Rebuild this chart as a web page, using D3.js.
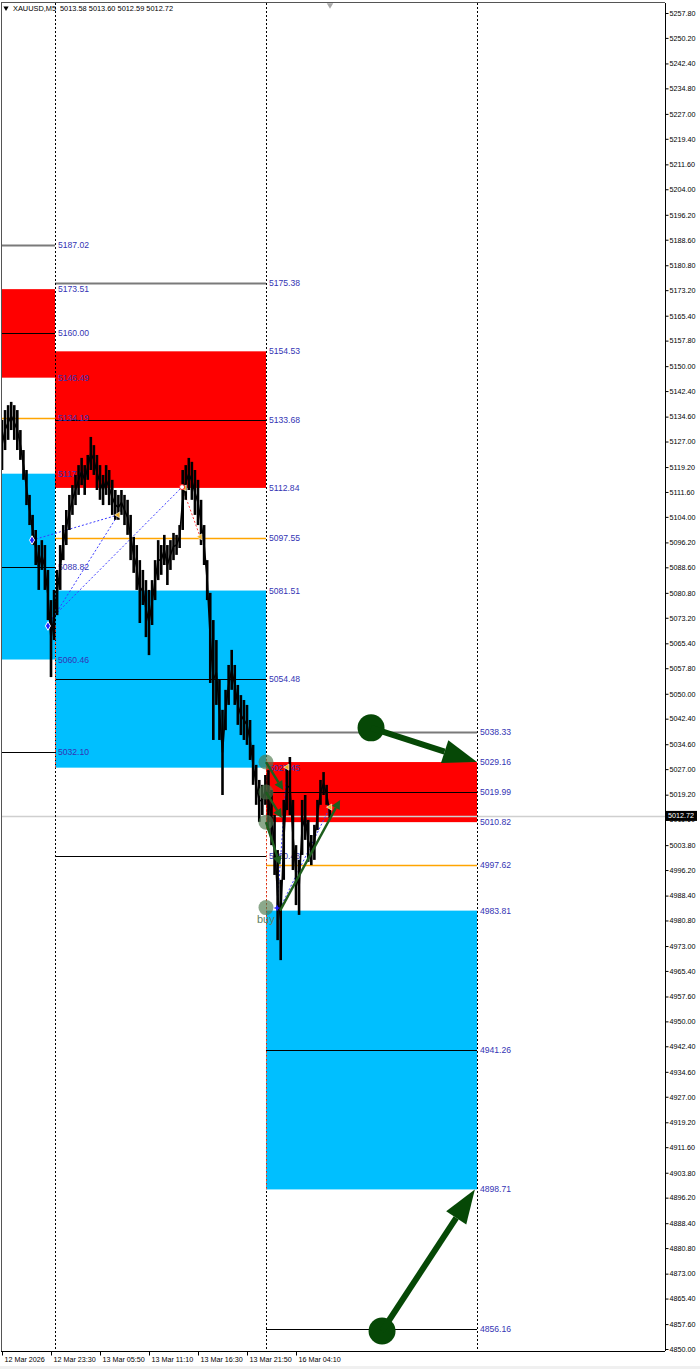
<!DOCTYPE html>
<html>
<head>
<meta charset="utf-8">
<script src="https://cdn.jsdelivr.net/npm/d3@7"></script>
<style>
  body { margin: 0; background: #fff; }
  text { font-family: "Liberation Sans", Arial, sans-serif; }
</style>
</head>
<body>
<svg id="chart"></svg>
<script>
// ---- data ----
var symbolTitle = "XAUUSD,M5";
var quoteValues = ["5013.58", "5013.60", "5012.59", "5012.72"];
var lastPrice = 5012.72;

var priceTicks = [5257.80, 5250.20, 5242.40, 5234.80, 5227.00, 5219.40, 5211.60, 5204.00, 5196.20, 5188.60,
    5180.80, 5173.20, 5165.40, 5157.80, 5150.00, 5142.40, 5134.60, 5127.00, 5119.20, 5111.60,
    5104.00, 5096.20, 5088.60, 5080.80, 5073.20, 5065.40, 5057.80, 5050.00, 5042.40, 5034.60,
    5027.00, 5019.20, 5011.60, 5003.80, 4996.20, 4988.40, 4980.80, 4973.00, 4965.40, 4957.60,
    4950.00, 4942.40, 4934.60, 4927.00, 4919.20, 4911.60, 4903.80, 4896.20, 4888.40, 4880.80,
    4873.00, 4865.40, 4857.60, 4850.00];

var timeLabels = ["12 Mar 2026", "12 Mar 23:30", "13 Mar 05:50", "13 Mar 11:10", "13 Mar 16:30", "13 Mar 21:50", "16 Mar 04:10"];
var timeLabelBars = [0, 16, 32, 48, 64, 80, 96];

// vertical session separators (bar positions)
var sessionBars = [17.3, 86.2, 155.1];

var barHigh = [5133.6, 5136.6, 5138.1, 5139.1, 5138.1, 5136.6, 5130.5, 5124.4, 5118.3, 5110.7,
    5104.6, 5100.0, 5095.4, 5096.9, 5095.4, 5087.8, 5078.6, 5081.7, 5087.8, 5095.4,
    5101.5, 5106.1, 5110.7, 5113.7, 5116.8, 5119.8, 5122.0, 5119.8, 5122.9, 5128.4,
    5125.9, 5122.9, 5119.8, 5116.8, 5119.8, 5118.3, 5115.3, 5112.2, 5110.7, 5112.2,
    5110.7, 5109.2, 5104.6, 5097.9, 5095.4, 5090.8, 5087.8, 5084.7, 5081.7, 5084.7,
    5090.8, 5096.9, 5095.4, 5098.5, 5095.4, 5096.9, 5099.1, 5098.5, 5101.5, 5118.3,
    5119.8, 5122.0, 5120.8, 5118.3, 5115.3, 5109.2, 5101.5, 5090.8, 5080.8, 5072.5,
    5066.4, 5054.2, 5045.1, 5051.2, 5058.8, 5063.4, 5058.8, 5052.7, 5049.6, 5048.1,
    5046.6, 5042.0, 5034.4, 5028.3, 5023.7, 5022.2, 5025.2, 5026.7, 5020.6, 5013.0,
    5002.3, 4993.2, 5017.6, 5028.3, 5030.7, 5017.6, 5003.8, 4999.3, 5017.6, 5019.1,
    5011.5, 5006.9, 5010.0, 5017.6, 5023.7, 5026.1, 5022.2, 5016.1];

var barLow = [5118.3, 5124.4, 5127.5, 5130.5, 5127.5, 5124.4, 5121.4, 5115.3, 5107.6, 5101.5,
    5095.4, 5089.3, 5081.7, 5087.8, 5081.7, 5072.5, 5055.1, 5066.4, 5074.0, 5081.7,
    5090.8, 5095.4, 5100.0, 5104.6, 5107.6, 5110.7, 5113.7, 5110.7, 5115.3, 5118.3,
    5116.8, 5112.2, 5109.2, 5107.6, 5110.7, 5107.6, 5104.6, 5103.1, 5103.1, 5104.6,
    5101.5, 5098.5, 5090.8, 5086.9, 5081.7, 5071.6, 5077.1, 5067.3, 5061.8, 5071.0,
    5078.6, 5084.7, 5086.3, 5089.3, 5083.2, 5087.8, 5090.8, 5092.4, 5094.5, 5100.0,
    5109.2, 5112.2, 5109.2, 5104.6, 5101.5, 5095.4, 5089.3, 5078.6, 5053.3, 5035.9,
    5046.6, 5035.9, 5019.1, 5038.9, 5046.6, 5051.2, 5046.6, 5040.5, 5037.4, 5035.9,
    5034.4, 5029.8, 5022.2, 5016.1, 5010.9, 5013.0, 5016.1, 5008.4, 5003.8, 4994.7,
    4974.8, 4968.7, 4993.2, 5014.5, 5013.0, 4996.2, 4985.5, 4982.5, 5000.8, 5005.4,
    4998.7, 4997.7, 4999.3, 5008.4, 5016.1, 5019.1, 5016.1, 5012.1];

// supply / demand zones
var zoneFrom = [-1, -1, 17.3, 17.3, 86.2, 86.2];
var zoneTo = [17.3, 17.3, 86.2, 86.2, 155.1, 155.1];
var zoneTop = [5173.51, 5117.18, 5154.53, 5081.51, 5029.16, 4983.81];
var zoneBottom = [5146.49, 5060.46, 5112.84, 5027.45, 5010.82, 4898.71];
var zoneKind = ["sell", "buy", "sell", "buy", "sell", "buy"];

// horizontal levels
var levelFrom = [-1, -1, -1, -1, -1, 17.3, 17.3, 17.3, 17.3, 17.3, 86.2, 86.2, 86.2, 86.2, 86.2];
var levelTo = [17.3, 17.3, 17.3, 17.3, 17.3, 86.2, 86.2, 86.2, 86.2, 86.2, 155.1, 155.1, 155.1, 155.1, 155.1];
var levelPrice = [5187.02, 5160.00, 5134.19, 5088.82, 5032.10, 5175.38, 5133.68, 5097.55, 5054.48, 5000.43,
    5038.33, 5019.99, 4997.62, 4941.26, 4856.16];
var levelKind = ["outer", "mid", "open", "mid", "mid", "outer", "mid", "open", "mid", "mid",
    "outer", "mid", "open", "mid", "mid"];

// price labels at the end of each session
var labelSession = [0, 0, 0, 0, 0, 0, 0, 0, 0, 1, 1, 1, 1, 1, 1, 1, 1, 1, 2, 2, 2, 2, 2, 2, 2, 2, 2];
var labelPrice = [5187.02, 5173.51, 5160.00, 5146.49, 5134.19, 5117.18, 5088.82, 5060.46, 5032.10,
    5175.38, 5154.53, 5133.68, 5112.84, 5097.55, 5081.51, 5054.48, 5027.45, 5000.43,
    5038.33, 5029.16, 5019.99, 5010.82, 4997.62, 4983.81, 4941.26, 4898.71, 4856.16];

// zigzag legs
var zigFromBar = [9.8, 15.0, 16.3, 58.8, 89.8, 90.8];
var zigFromPrice = [5096.9, 5070.7, 5073.1, 5113.1, 4984.6, 4984.6];
var zigToBar = [37.9, 37.9, 58.8, 64.7, 93.1, 107.1];
var zigToPrice = [5104.6, 5104.6, 5113.1, 5097.9, 5027.6, 5015.4];
var zigKind = ["up", "up", "up", "down", "up", "up"];

var pivotBar = [9.8, 15.0];
var pivotPrice = [5096.9, 5070.7];
var flagBar = [37.9, 59.6, 64.7, 93.1, 107.1];
var flagPrice = [5104.6, 5112.8, 5097.9, 5027.6, 5015.4];

// red dotted verticals
var dropBar = [17.3, 86.2];
var dropTop = [5070.7, 5030.0];
var dropBottom = [5027.45, 4898.71];

// signals
var signalBar = [86.2, 86.2, 86.2, 86.2];
var signalPrice = [5029.16, 5019.99, 5010.82, 4983.81];
var smallArrowFromBar = [86.2, 86.2, 86.2, 90.8];
var smallArrowFromPrice = [5029.16, 5019.99, 5010.82, 4983.81];
var smallArrowToBar = [91.8, 91.4, 90.8, 110.4];
var smallArrowToPrice = [5020.6, 5012.1, 4997.7, 5017.6];

var bigArrowFromBar = [120.5, 124.1];
var bigArrowFromPrice = [5039.6, 4855.5];
var bigArrowToBar = [155.1, 154.4];
var bigArrowToPrice = [5029.16, 4898.71];

// ---- layout ----
var W = 700, H = 1369;
var plotLeft = 1, plotRight = 665, plotTop = 3, plotBottom = 1351;

var svg = d3.select("#chart").attr("width", W).attr("height", H);

svg.append("rect").attr("width", W).attr("height", H).attr("fill", "#fff");
svg.append("rect").attr("x", 0).attr("y", 1366).attr("width", W).attr("height", 3).attr("fill", "#f0f0f0");

var x = d3.scaleLinear().domain([0, 16]).range([2, 51]);
var y = d3.scaleLinear().domain([4850, 5257.8]).range([1349, 13]);

svg.append("clipPath").attr("id", "plotclip")
    .append("rect")
    .attr("x", plotLeft).attr("y", plotTop)
    .attr("width", plotRight - plotLeft).attr("height", plotBottom - plotTop);

var g = svg.append("g").attr("clip-path", "url(#plotclip)");

var zoneColor = { sell: "#ff0000", buy: "#00bfff" };
var levelColor = { outer: "#7a7a7a", mid: "#000000", open: "#ffa500" };
var levelWidth = { outer: 2, mid: 1, open: 1.6 };

function xs(b) { return b < 0 ? plotLeft : x(b); }

// zones
g.selectAll("rect.zone")
    .data(d3.range(zoneTop.length))
    .enter().append("rect")
    .attr("class", "zone")
    .attr("x", function (i) { return xs(zoneFrom[i]); })
    .attr("y", function (i) { return y(zoneTop[i]); })
    .attr("width", function (i) { return x(zoneTo[i]) - xs(zoneFrom[i]); })
    .attr("height", function (i) { return y(zoneBottom[i]) - y(zoneTop[i]); })
    .attr("fill", function (i) { return zoneColor[zoneKind[i]]; });

// last price line
g.append("line")
    .attr("x1", plotLeft).attr("x2", plotRight)
    .attr("y1", Math.round(y(lastPrice)) + 0.5).attr("y2", Math.round(y(lastPrice)) + 0.5)
    .attr("stroke", "#cfcfcf").attr("stroke-width", 1.5);

// levels
g.selectAll("line.level")
    .data(d3.range(levelPrice.length))
    .enter().append("line")
    .attr("class", "level")
    .attr("x1", function (i) { return xs(levelFrom[i]); })
    .attr("x2", function (i) { return x(levelTo[i]); })
    .attr("y1", function (i) { return Math.round(y(levelPrice[i])) + 0.5; })
    .attr("y2", function (i) { return Math.round(y(levelPrice[i])) + 0.5; })
    .attr("stroke", function (i) { return levelColor[levelKind[i]]; })
    .attr("stroke-width", function (i) { return levelWidth[levelKind[i]]; });

// session separators
g.selectAll("line.sep")
    .data(sessionBars)
    .enter().append("line")
    .attr("class", "sep")
    .attr("x1", function (d) { return Math.round(x(d)) + 0.5; })
    .attr("x2", function (d) { return Math.round(x(d)) + 0.5; })
    .attr("y1", plotTop).attr("y2", plotBottom)
    .attr("stroke", "#000").attr("stroke-width", 1)
    .attr("stroke-dasharray", "2,2");

// red dotted drops
g.selectAll("line.drop")
    .data(d3.range(dropBar.length))
    .enter().append("line")
    .attr("x1", function (i) { return Math.round(x(dropBar[i])) + 0.5; })
    .attr("x2", function (i) { return Math.round(x(dropBar[i])) + 0.5; })
    .attr("y1", function (i) { return y(dropTop[i]); })
    .attr("y2", function (i) { return y(dropBottom[i]); })
    .attr("stroke", "#ff4b2b").attr("stroke-width", 1)
    .attr("stroke-dasharray", "2,2");

// price labels
g.selectAll("text.plabel")
    .data(d3.range(labelPrice.length))
    .enter().append("text")
    .attr("class", "plabel")
    .attr("x", function (i) { return x(sessionBars[labelSession[i]]) + 3; })
    .attr("y", function (i) { return y(labelPrice[i]); })
    .attr("dy", "0.35em")
    .attr("font-size", "8.6px")
    .attr("fill", "#3434b4")
    .text(function (i) { return labelPrice[i].toFixed(2); });

// zigzag legs
g.selectAll("line.zig")
    .data(d3.range(zigFromBar.length))
    .enter().append("line")
    .attr("x1", function (i) { return x(zigFromBar[i]); })
    .attr("y1", function (i) { return y(zigFromPrice[i]); })
    .attr("x2", function (i) { return x(zigToBar[i]); })
    .attr("y2", function (i) { return y(zigToPrice[i]); })
    .attr("stroke", function (i) { return zigKind[i] == "up" ? "#3b3bff" : "#ff3b3b"; })
    .attr("stroke-width", 1)
    .attr("stroke-dasharray", "2,2");

// price bars: each bar joined to the previous one so the trace reads as one line
var barPath = d3.line()
    .x(function (d) { return d[0]; })
    .y(function (d) { return d[1]; });

g.append("path")
    .attr("d", barPath(d3.range(barHigh.length).map(function (i) {
        return [x(i), y((barHigh[i] + barLow[i]) / 2)];
    })))
    .attr("fill", "none")
    .attr("stroke", "#000")
    .attr("stroke-width", 1.6);

g.selectAll("line.bar")
    .data(d3.range(barHigh.length))
    .enter().append("line")
    .attr("class", "bar")
    .attr("x1", function (i) { return x(i); })
    .attr("x2", function (i) { return x(i); })
    .attr("y1", function (i) { return y(barHigh[i]); })
    .attr("y2", function (i) { return y(barLow[i]); })
    .attr("stroke", "#000")
    .attr("stroke-width", 2.6);

// pivot markers
g.selectAll("path.pivot")
    .data(d3.range(pivotBar.length))
    .enter().append("path")
    .attr("d", d3.symbol(d3.symbolDiamond, 22))
    .attr("transform", function (i) { return "translate(" + x(pivotBar[i]) + "," + y(pivotPrice[i]) + ")"; })
    .attr("fill", "#2020ff").attr("stroke", "#fff").attr("stroke-width", 1);

g.selectAll("path.flag")
    .data(d3.range(flagBar.length))
    .enter().append("path")
    .attr("d", d3.symbol(d3.symbolTriangle, 16))
    .attr("transform", function (i) { return "translate(" + x(flagBar[i]) + "," + y(flagPrice[i]) + ")rotate(-90)"; })
    .attr("fill", "#f0b020").attr("stroke", "#fff").attr("stroke-width", 0.6);

g.append("circle")
    .attr("cx", x(zigToBar[2])).attr("cy", y(zigToPrice[2]))
    .attr("r", 2.5).attr("fill", "#fff").attr("stroke", "#ff2020").attr("stroke-width", 1);

// signal circles
g.selectAll("circle.signal")
    .data(d3.range(signalBar.length))
    .enter().append("circle")
    .attr("cx", function (i) { return x(signalBar[i]); })
    .attr("cy", function (i) { return y(signalPrice[i]) - (i == 3 ? 3 : 0); })
    .attr("r", 7.5)
    .attr("fill", "#4d7a4d")
    .attr("opacity", 0.65);

g.append("text")
    .attr("x", x(signalBar[3]) - 9).attr("y", y(signalPrice[3]) + 12)
    .attr("font-size", "11px").attr("fill", "#5f7f5f")
    .text("buy");

// buy cross
g.append("path")
    .attr("d", d3.symbol(d3.symbolCross, 14))
    .attr("transform", "translate(" + x(zigFromBar[4]) + "," + y(zigFromPrice[4]) + ")")
    .attr("fill", "#2020ff");

function drawArrow(sel, x1, y1, x2, y2, color, width, headLen, headHalf) {
    var a = Math.atan2(y2 - y1, x2 - x1);
    var bx = x2 - headLen * Math.cos(a), by = y2 - headLen * Math.sin(a);
    sel.append("line")
        .attr("x1", x1).attr("y1", y1).attr("x2", bx).attr("y2", by)
        .attr("stroke", color).attr("stroke-width", width);
    sel.append("path")
        .attr("d", "M" + x2 + "," + y2 +
            "L" + (bx + headHalf * Math.sin(a)) + "," + (by - headHalf * Math.cos(a)) +
            "L" + (bx - headHalf * Math.sin(a)) + "," + (by + headHalf * Math.cos(a)) + "Z")
        .attr("fill", color);
}

for (var i = 0; i < smallArrowFromBar.length; i++) {
    drawArrow(g, x(smallArrowFromBar[i]), y(smallArrowFromPrice[i]), x(smallArrowToBar[i]), y(smallArrowToPrice[i]),
        "#1d5e1d", 2.4, 9, 4.5);
}

for (var j = 0; j < bigArrowFromBar.length; j++) {
    g.append("circle")
        .attr("cx", x(bigArrowFromBar[j])).attr("cy", y(bigArrowFromPrice[j]))
        .attr("r", 13.5).attr("fill", "#064806");
    drawArrow(g, x(bigArrowFromBar[j]), y(bigArrowFromPrice[j]), x(bigArrowToBar[j]), y(bigArrowToPrice[j]),
        "#064806", 6, 34, 12);
}

// ---- frame and axes ----
svg.append("line").attr("x1", plotLeft + 0.5).attr("x2", plotLeft + 0.5).attr("y1", plotTop).attr("y2", plotBottom)
    .attr("stroke", "#555");
svg.append("line").attr("x1", plotLeft).attr("x2", plotRight).attr("y1", plotTop - 0.5).attr("y2", plotTop - 0.5)
    .attr("stroke", "#555");

// top shift marker
svg.append("path")
    .attr("d", d3.symbol(d3.symbolTriangle, 18))
    .attr("transform", "translate(330,5)rotate(180)")
    .attr("fill", "#a8a8a8");

var yAxis = d3.axisRight(y)
    .tickValues(priceTicks)
    .tickFormat(d3.format(".2f"))
    .tickSize(3)
    .tickSizeOuter(0)
    .tickPadding(1);

var ya = svg.append("g")
    .attr("transform", "translate(" + (plotRight + 0.5) + ",0)")
    .call(yAxis);
ya.select(".domain").attr("d", "M0," + plotTop + "V" + plotBottom).attr("stroke", "#000");
ya.selectAll("text").attr("font-size", "7.2px").attr("font-family", "Liberation Sans, Arial, sans-serif").attr("fill", "#000");

var xAxis = d3.axisBottom(x)
    .tickValues(timeLabelBars)
    .tickFormat(function (d, i) { return timeLabels[i]; })
    .tickSize(4)
    .tickSizeOuter(0);

var xa = svg.append("g")
    .attr("transform", "translate(0," + (plotBottom + 0.5) + ")")
    .call(xAxis);
xa.select(".domain").attr("d", "M" + plotLeft + ",0H" + plotRight).attr("stroke", "#000");
xa.selectAll("text")
    .attr("text-anchor", "start")
    .attr("x", 2)
    .attr("y", 5)
    .attr("font-size", "7.2px")
    .attr("font-family", "Liberation Sans, Arial, sans-serif")
    .attr("fill", "#000");

// last price tag (covers the 5011.60 tick label, as in the terminal)
var lp = y(lastPrice);
svg.append("rect")
    .attr("x", plotRight + 1).attr("y", lp - 5)
    .attr("width", 31).attr("height", 10)
    .attr("fill", "#000");
svg.append("text")
    .attr("x", plotRight + 3).attr("y", lp)
    .attr("dy", "0.35em")
    .attr("font-size", "7.2px").attr("fill", "#fff")
    .text(lastPrice.toFixed(2));

// header
svg.append("path")
    .attr("d", d3.symbol(d3.symbolTriangle, 12))
    .attr("transform", "translate(6,8)rotate(180)")
    .attr("fill", "#000");
svg.append("text")
    .attr("x", 13).attr("y", 8).attr("dy", "0.35em")
    .attr("font-size", "7.4px").attr("fill", "#000")
    .text(symbolTitle);
svg.append("text")
    .attr("x", 60).attr("y", 8).attr("dy", "0.35em")
    .attr("font-size", "7.4px").attr("fill", "#000")
    .text(quoteValues.join(" "));
</script>
</body>
</html>
